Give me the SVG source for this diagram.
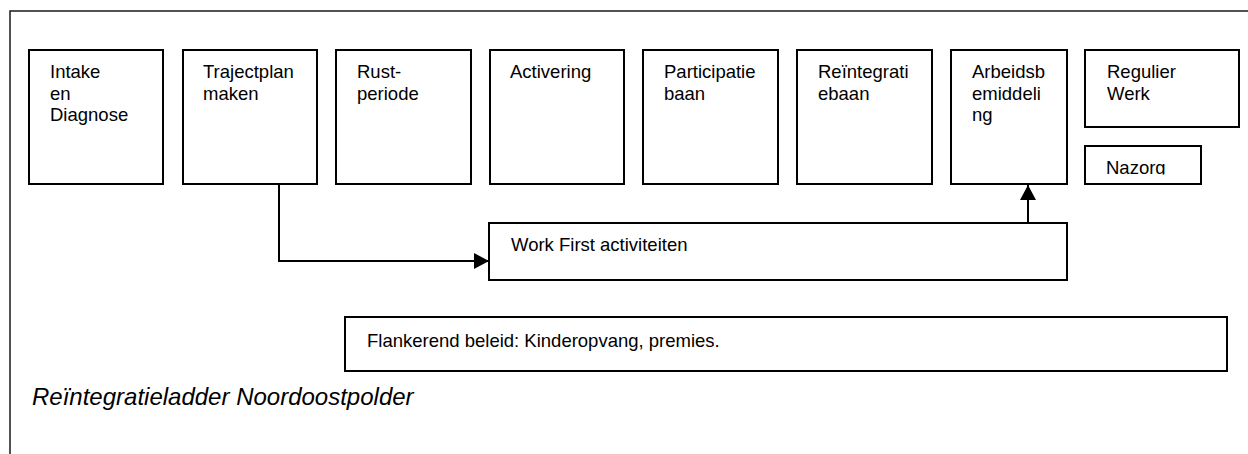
<svg xmlns="http://www.w3.org/2000/svg" width="1248" height="454" viewBox="0 0 1248 454">
<style>
.box{fill:#fff;stroke:#000;stroke-width:2}
.frame{fill:none;stroke:#1a1a1a;stroke-width:1.5}
.t{font-family:"Liberation Sans",Arial,sans-serif;font-size:18.5px;fill:#000}
.cap{font-family:"Liberation Sans",Arial,sans-serif;font-size:24px;font-style:italic;fill:#000}
.conn{fill:none;stroke:#000;stroke-width:2}
</style>
<defs>
<marker id="arr" viewBox="0 0 15 16" refX="15" refY="8" markerWidth="15" markerHeight="16" markerUnits="userSpaceOnUse" orient="auto">
<path d="M0,0 L15,8 L0,16 Z" fill="#000"/>
</marker>
<clipPath id="clipNazorg"><rect x="1085" y="146" width="116" height="28.5"/></clipPath>
</defs>
<rect width="1248" height="454" fill="#fff"/>
<rect class="frame" x="10" y="11" width="1300" height="500"/>

<g id="connectors">
<path class="conn" d="M279,184 V261 H489" marker-end="url(#arr)"/>
<path class="conn" d="M1028,223 V185" marker-end="url(#arr)"/>
</g>

<g id="intake">
<rect class="box" x="29" y="50" width="134" height="134"/>
<text class="t" x="50" y="78">Intake</text>
<text class="t" x="50" y="99.5">en</text>
<text class="t" x="50" y="121">Diagnose</text>
</g>
<g id="trajectplan">
<rect class="box" x="183" y="50" width="134" height="134"/>
<text class="t" x="203" y="78">Trajectplan</text>
<text class="t" x="203" y="99.5">maken</text>
</g>
<g id="rustperiode">
<rect class="box" x="336" y="50" width="135" height="134"/>
<text class="t" x="357" y="78">Rust-</text>
<text class="t" x="357" y="99.5">periode</text>
</g>
<g id="activering">
<rect class="box" x="490" y="50" width="134" height="134"/>
<text class="t" x="510" y="78">Activering</text>
</g>
<g id="participatiebaan">
<rect class="box" x="643" y="50" width="135" height="134"/>
<text class="t" x="664" y="78">Participatie</text>
<text class="t" x="664" y="99.5">baan</text>
</g>
<g id="reintegratiebaan">
<rect class="box" x="797" y="50" width="135" height="134"/>
<text class="t" x="818" y="78">Reïntegrati</text>
<text class="t" x="818" y="99.5">ebaan</text>
</g>
<g id="arbeidsbemiddeling">
<rect class="box" x="951" y="50" width="116" height="134"/>
<text class="t" x="972" y="78">Arbeidsb</text>
<text class="t" x="972" y="99.5">emiddeli</text>
<text class="t" x="972" y="121">ng</text>
</g>
<g id="regulierwerk">
<rect class="box" x="1085" y="50" width="154" height="77"/>
<text class="t" x="1107" y="78">Regulier</text>
<text class="t" x="1107" y="99.5">Werk</text>
</g>
<g id="nazorg">
<rect class="box" x="1085" y="146" width="116" height="38"/>
<text class="t" x="1106" y="174" clip-path="url(#clipNazorg)">Nazorg</text>
</g>
<g id="workfirst">
<rect class="box" x="489" y="223" width="578" height="57"/>
<text class="t" x="511" y="251">Work First activiteiten</text>
</g>
<g id="flankerend">
<rect class="box" x="345" y="317" width="882" height="54"/>
<text class="t" x="367" y="346.5">Flankerend beleid: Kinderopvang, premies.</text>
</g>
<text class="cap" x="32" y="405">Reïntegratieladder Noordoostpolder</text>
</svg>
